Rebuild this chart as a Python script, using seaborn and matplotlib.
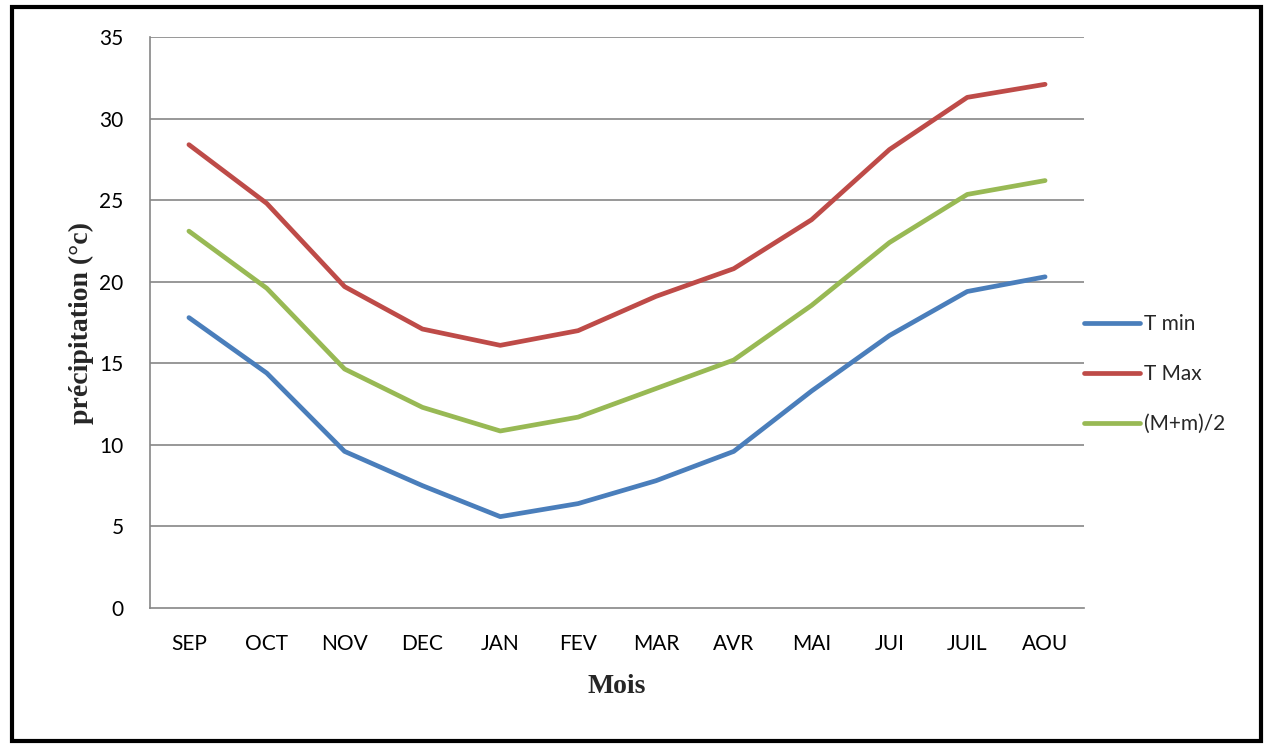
import numpy as np
import pandas as pd
import matplotlib
matplotlib.use("Agg")
import matplotlib.pyplot as plt
import seaborn as sns

# Monthly temperatures (°C)
mois = ["SEP", "OCT", "NOV", "DEC", "JAN", "FEV", "MAR", "AVR", "MAI", "JUI", "JUIL", "AOU"]
t_min = [17.8, 14.4, 9.6, 7.5, 5.6, 6.4, 7.8, 9.6, 13.3, 16.7, 19.4, 20.3]
t_max = [28.4, 24.8, 19.7, 17.1, 16.1, 17.0, 19.1, 20.8, 23.8, 28.1, 31.3, 32.1]
t_moy = [(a + b) / 2 for a, b in zip(t_min, t_max)]
series = ["T min", "T Max", "(M+m)/2"]
y_ticks = [0, 5, 10, 15, 20, 25, 30, 35]

palette = {"T min": "#4A7EBB", "T Max": "#BE4B48", "(M+m)/2": "#98B954"}

df = pd.concat([
    pd.DataFrame({"x": np.arange(len(mois)), "val": vals, "serie": name})
    for name, vals in zip(series, [t_min, t_max, t_moy])
], ignore_index=True)

sns.set_theme(style="white")
plt.rcParams["font.family"] = ["Lato", "DejaVu Sans"]

fig = plt.figure(figsize=(12.69, 7.45), dpi=100)
ax = fig.add_axes([150 / 1269, 1 - 608 / 745, (1084 - 150) / 1269, (608 - 37) / 745])

grid_c = "#868686"
for v in y_ticks[1:]:
    ax.axhline(v, color=grid_c, lw=1.2, zorder=0)

lw = 3.4
sns.lineplot(data=df, x="x", y="val", hue="serie", hue_order=series,
             palette=palette, linewidth=lw, ax=ax, legend=True,
             solid_capstyle="round")

ax.set_xlim(-0.5, len(mois) - 0.5)
ax.set_ylim(0, 35)
ax.set_yticks(y_ticks)
ax.set_yticklabels([str(v) for v in y_ticks], fontsize=15)
ax.set_xticks(np.arange(len(mois) + 1) - 0.5)
ax.set_xticklabels([])
ax.set_xticks(np.arange(len(mois)), minor=True)
ax.set_xticklabels(mois, minor=True, fontsize=15)
ax.tick_params(axis="x", which="major", length=6, width=1.2, direction="out")
ax.tick_params(axis="x", which="minor", length=0, pad=19)
ax.tick_params(axis="y", length=6, width=1.2, direction="out", pad=13)
ax.tick_params(axis="both", which="both", color=grid_c, labelcolor="black")

for s in ["top", "right"]:
    ax.spines[s].set_visible(False)
for s in ["left", "bottom"]:
    ax.spines[s].set_color(grid_c)
    ax.spines[s].set_linewidth(1.2)

ax.set_xlabel("Mois", fontsize=20, fontweight="bold", family="Liberation Serif", labelpad=14)
ax.set_ylabel("précipitation (°c)", fontsize=20, fontweight="bold", family="Liberation Serif", labelpad=4)

leg = ax.legend(loc="center left", bbox_to_anchor=(1.0, 0.41), frameon=False,
                fontsize=15, handlelength=2.7, handletextpad=0.2,
                labelspacing=1.44, borderpad=0, borderaxespad=0)
for line in leg.get_lines():
    line.set_linewidth(lw)
    line.set_solid_capstyle("round")

# Outer frame around the figure
fig.patches.append(plt.Rectangle((12 / 1269, 1 - 741 / 745), (1261 - 12) / 1269, (741 - 7) / 745,
                                 transform=fig.transFigure, fill=False,
                                 edgecolor="black", linewidth=3, zorder=10))

fig.savefig("out.png", dpi=100, facecolor="white")
